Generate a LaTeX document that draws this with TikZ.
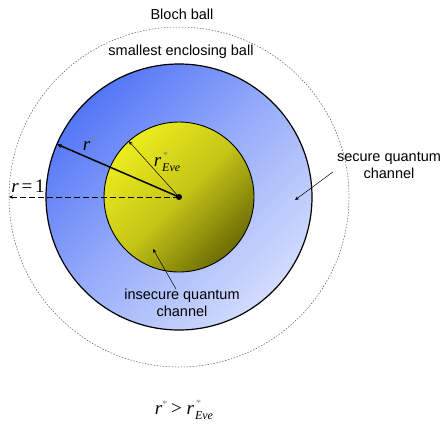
\documentclass[tikz,border=0pt]{standalone}
\usepackage{fontspec}
\setmainfont{Liberation Sans}
\newfontfamily\tms{Liberation Serif}
\usetikzlibrary{arrows.meta,calc}
\definecolor{bluedark}{RGB}{84,118,246}
\definecolor{bluelight}{RGB}{210,220,253}
\definecolor{yelbright}{RGB}{236,236,30}
\definecolor{yeldark}{RGB}{108,108,6}
\newcommand{\starmark}{{\color{gray}\tms\fontsize{10bp}{10bp}\selectfont *}}
\newcommand{\rs}{{\tms\itshape r}\raisebox{7bp}{\starmark}}
\newcommand{\rEve}{{\tms\itshape r}\kern1bp\raisebox{-5.5bp}{\tms\itshape\fontsize{12bp}{12bp}\selectfont \rlap{\raisebox{13bp}{\kern0.5bp\starmark}}Eve}}
\tikzset{
  lbl/.style={font=\fontsize{14.5bp}{17bp}\selectfont, align=center, inner sep=0pt},
  mth/.style={font=\fontsize{19bp}{20bp}\selectfont, inner sep=0pt},
  ptr/.style={-{Stealth[length=4bp,width=3.5bp]}, line width=0.5bp},
}
\begin{document}
\begin{tikzpicture}[x=1bp,y=-1bp]
\useasboundingbox (0,0) rectangle (445,429);
\coordinate (C) at (179,197);
% Bloch ball
\draw[gray!70!black, line width=0.5bp, dash pattern=on 1.5bp off 1.5bp] (C) circle (170);
% smallest enclosing ball
\shade[top color=bluedark, bottom color=bluelight, middle color=bluedark!45!bluelight, shading angle=45] (C) circle (133);
\draw[line width=1.2bp] (C) circle (133);
% insecure ball
\shade[top color=yelbright, bottom color=yeldark, middle color=yelbright!70!yeldark, shading angle=45] (C) circle (75);
\draw[line width=0.9bp] (C) circle (75);
% radii
\coordinate (Rs) at ($(C)+(-156.6:133)$);
\coordinate (Re) at ($(C)+(-132:75)$);
\coordinate (R1) at ($(C)+(-170,0)$);
\draw[ptr, line width=1.5bp, -{Stealth[length=5bp,width=4bp]}] (C) -- (Rs);
\draw[ptr] (C) -- (Re);
\draw[ptr, dash pattern=on 6bp off 3bp] (C) -- (R1);
\fill (C) circle (3);
% labels
\node[mth] (lrs) at (89,144) {\rs};
\node[mth] (lre) at (167,162) {\rEve};
\node[mth] (lr1) at (28,186) {{\tms\itshape r}\kern0.15em{\tms =}\kern0.15em{\tms 1}};
\node[lbl] (bloch) at (182,14) {Bloch ball};
\node[lbl] (seb) at (181,52) {smallest enclosing ball};
\node[lbl] (sec) at (389,165) {secure quantum\\channel};
\node[lbl] (insec) at (182,303) {insecure quantum\\channel};
\node[mth] (form) at (184,410) {\rs\kern0.2em{\tms >}\kern0.25em\rEve};
% pointers
\coordinate (secA) at (295,200);
\coordinate (insA) at (153,249);
\draw[ptr] ($(sec.west)+(-4,7)$) -- (secA);
\draw[ptr] ($(insec.north)+(-6,0)$) -- (insA);
\end{tikzpicture}
\end{document}
